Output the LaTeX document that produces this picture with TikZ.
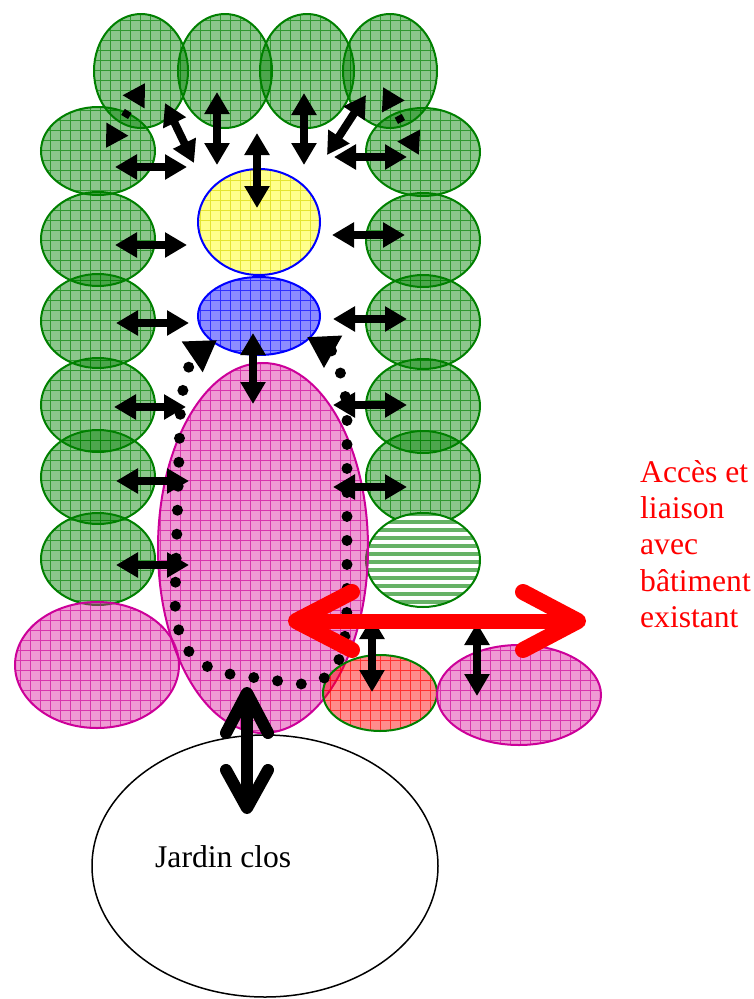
\documentclass[tikz,border=0pt]{standalone}
\usepackage{fontspec}
\setmainfont{Liberation Serif}
\usetikzlibrary{arrows.meta}
\definecolor{gr}{RGB}{0,128,0}
\definecolor{pk}{RGB}{220,30,160}
\definecolor{pkline}{RGB}{204,0,153}
\definecolor{bl}{RGB}{0,0,255}
\definecolor{ye}{RGB}{255,255,0}
\definecolor{yeline}{RGB}{215,215,0}
\definecolor{rd}{RGB}{255,0,0}
\newcommand\patell[7]{%
\begin{scope}
\clip (#1,#2) ellipse [x radius=#3pt, y radius=#4pt];
\fill[#5, fill opacity=0.45] (#1,#2) ellipse [x radius=#3pt, y radius=#4pt];
\draw[#6, line width=0.8pt, draw opacity=0.65, step=10pt] (#1-#3-2,#2-#4-2) grid (#1+#3+2,#2+#4+2);
\end{scope}
\draw[#7, line width=2pt] (#1,#2) ellipse [x radius=#3pt, y radius=#4pt];
}
\tikzset{
  barrow/.style={line width=8pt, arrows={Triangle[width=24pt,length=22pt]-Triangle[width=24pt,length=22pt]}},
  dbarrow/.style={barrow, dash pattern=on 0pt off 12pt on 7pt off 40pt},
  dotpath/.style={line width=11pt, line cap=round, dash pattern=on 0pt off 24pt, arrows={Triangle[width=35pt,length=30pt]-Triangle[width=35pt,length=30pt]}},
  bigchev/.style={line width=12pt, line cap=round, line join=round},
  redchev/.style={rd, line width=16pt, line cap=round, line join=round},
  redtxt/.style={text=rd, anchor=base west, inner sep=0pt, font=\fontsize{31.6}{36}\selectfont},
}
\begin{document}
\begin{tikzpicture}[x=1pt,y=-1pt]
\useasboundingbox (0,0) rectangle (753,999);
% white garden ellipse
\draw[black, line width=1.5pt, fill=white] (265,866) ellipse [x radius=173pt, y radius=131pt];
\node[anchor=base west, inner sep=0pt, font=\fontsize{31.6}{36}\selectfont] (jardin) at (155,867) {Jardin clos};
% top row
\patell{141}{71}{47}{57}{gr}{gr}{gr}
\patell{225}{71}{47}{57}{gr}{gr}{gr}
\patell{307}{71}{47}{57}{gr}{gr}{gr}
\patell{390}{71}{47}{57}{gr}{gr}{gr}
% left column
\patell{98}{151}{57}{44}{gr}{gr}{gr}
\patell{98}{239}{57}{47}{gr}{gr}{gr}
\patell{98}{321}{57}{47}{gr}{gr}{gr}
\patell{98}{405}{57}{47}{gr}{gr}{gr}
\patell{98}{477}{57}{47}{gr}{gr}{gr}
\patell{98}{559}{57}{46}{gr}{gr}{gr}
% right column
\patell{423}{152}{57}{44}{gr}{gr}{gr}
\patell{423}{240}{57}{47}{gr}{gr}{gr}
\patell{423}{322}{57}{47}{gr}{gr}{gr}
\patell{423}{406}{57}{47}{gr}{gr}{gr}
\patell{423}{478}{57}{47}{gr}{gr}{gr}
% hatched ellipse
\begin{scope}
\clip (423,560) ellipse [x radius=57pt, y radius=47pt];
\fill[white] (423,560) ellipse [x radius=57pt, y radius=47pt];
\foreach \yy in {514,522,...,610} \draw[gr, draw opacity=0.6, line width=4pt] (360,\yy) -- (486,\yy);
\end{scope}
\draw[gr, line width=2pt] (423,560) ellipse [x radius=57pt, y radius=47pt];
% yellow and blue
\patell{259}{222}{61}{53}{ye}{yeline}{bl}
\patell{259}{316}{61}{39}{bl}{bl}{bl}
% pink ellipses
\patell{97}{665}{82}{63}{pk}{pkline}{pkline}
\patell{263}{548}{105}{185}{pk}{pkline}{pkline}
\patell{380}{693}{57}{38}{rd}{rd}{gr}
\patell{519}{695}{82}{50}{pk}{pkline}{pkline}
% black arrows top
\draw[dbarrow] (145,83) -- (106,148);
\draw[barrow] (165,103) -- (194,163);
\draw[barrow] (217,92) -- (217,165);
\draw[barrow] (115,167) -- (187,167);
\draw[barrow] (257,133) -- (257,208);
\draw[barrow] (304,93) -- (304,165);
\draw[barrow] (366,95) -- (327,155);
\draw[barrow] (334,157) -- (407,157);
\draw[dbarrow] (383,87) -- (419,155);
% left column arrows
\draw[barrow] (115,245) -- (187,245);
\draw[barrow] (116,323) -- (189,323);
\draw[barrow] (114,407) -- (186,407);
\draw[barrow] (116,481) -- (189,481);
\draw[barrow] (116,565) -- (189,565);
% right column arrows
\draw[barrow] (332,235) -- (405,235);
\draw[barrow] (333,319) -- (407,319);
\draw[barrow] (333,405) -- (407,405);
\draw[barrow] (333,487) -- (407,487);
% blue to pink
\draw[barrow] (253,333) -- (253,404);
% dotted circulation loop
\draw[dotpath] (307,337) .. controls (330,350) and (346,370) .. (347,420) -- (347,600) .. controls (347,660) and (335,684) .. (300,684) -- (250,677) .. controls (195,672) and (176,650) .. (175,600) -- (180,420) .. controls (182,370) and (195,355) .. (217,340);
% small vertical arrows at bottom right
\draw[barrow] (372,617) -- (372,692);
\draw[barrow] (477,623) -- (477,696);
% red access arrow
\draw[rd, line width=15pt] (296,621) -- (578,621);
\draw[redchev] (352,592) -- (296,621) -- (352,650);
\draw[redchev] (523,592) -- (578,621) -- (523,650);
% big black arrow to garden
\draw[line width=12pt] (247,693) -- (247,808);
\draw[bigchev] (226,733) -- (247,693) -- (268,733);
\draw[bigchev] (226,770) -- (247,808) -- (268,770);
% red text
\node[redtxt] (t1) at (640,482) {Accès et};
\node[redtxt] (t2) at (640,518) {liaison};
\node[redtxt] (t3) at (640,554) {avec};
\node[redtxt] (t4) at (640,591) {bâtiment};
\node[redtxt] (t5) at (640,627) {existant};
\end{tikzpicture}
\end{document}
